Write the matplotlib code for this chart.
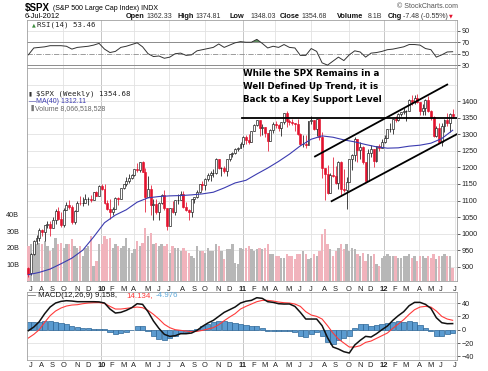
import numpy as np
import matplotlib.pyplot as plt
from matplotlib import transforms

W, H = 489, 371

plt.rcParams['font.family'] = ['Liberation Sans', 'DejaVu Sans']
plt.rcParams['font.size'] = 5.2

# weekly $SPX bars, week ending 10-Jul-2009 ... 6-Jul-2012 (157 weeks)
opens = [896, 880, 940, 979, 987, 1010, 1005, 1026, 1029, 1016, 1042, 1068, 1044, 1025, 1071, 1087, 1080, 1036, 1069, 1093,
         1091, 1091, 1106, 1106, 1102, 1126,
         1115, 1144, 1136, 1091, 1073, 1066, 1075, 1109, 1104, 1138, 1150, 1160, 1167, 1178, 1194, 1192, 1217, 1187, 1111, 1136,
         1087, 1089, 1064, 1092, 1117, 1076, 1022, 1078, 1065, 1102, 1102, 1121, 1079, 1071, 1065, 1104, 1110, 1125, 1149, 1146,
         1166, 1176, 1183, 1183, 1225, 1199, 1199, 1189, 1224, 1240, 1244, 1256,
         1258, 1272, 1293, 1283, 1276, 1311, 1329, 1343, 1320, 1321, 1304, 1279, 1314, 1332, 1328, 1320, 1337, 1364, 1340, 1338,
         1333, 1331, 1300, 1271, 1271, 1268, 1340, 1344, 1316, 1345, 1292, 1199, 1179, 1124, 1177, 1174, 1154, 1216, 1136, 1131,
         1155, 1224, 1238, 1285, 1253, 1263, 1216, 1159, 1244, 1255, 1219, 1265,
         1258, 1278, 1289, 1315, 1316, 1345, 1343, 1361, 1366, 1370, 1371, 1404, 1397, 1408, 1398, 1370, 1378, 1403, 1369, 1353,
         1295, 1318, 1278, 1325, 1343, 1335, 1362.33]
highs = [898, 942, 980, 996, 1018, 1014, 1027, 1039, 1039, 1049, 1074, 1080, 1065, 1076, 1096, 1101, 1085, 1072, 1097, 1113,
         1112, 1119, 1110, 1117, 1127, 1130,
         1146, 1150, 1150, 1103, 1104, 1080, 1112, 1112, 1139, 1151, 1170, 1181, 1181, 1194, 1214, 1217, 1220, 1197, 1173, 1148,
         1104, 1106, 1094, 1119, 1131, 1078, 1078, 1100, 1103, 1120, 1129, 1129, 1094, 1073, 1105, 1111, 1131, 1149, 1158, 1167,
         1184, 1189, 1196, 1227, 1226, 1200, 1204, 1225, 1240, 1246, 1259, 1263,
         1278, 1294, 1297, 1302, 1311, 1330, 1344, 1344, 1332, 1323, 1305, 1315, 1337, 1339, 1331, 1338, 1364, 1370, 1346, 1346,
         1335, 1346, 1304, 1298, 1299, 1341, 1356, 1344, 1347, 1345, 1307, 1199, 1208, 1182, 1230, 1204, 1220, 1220, 1195, 1171,
         1224, 1239, 1293, 1285, 1277, 1266, 1216, 1254, 1267, 1255, 1266, 1270,
         1285, 1297, 1315, 1333, 1345, 1354, 1363, 1368, 1378, 1374, 1405, 1419, 1419, 1422, 1398, 1391, 1406, 1415, 1373, 1354,
         1325, 1335, 1335, 1345, 1363, 1363, 1374.81]
lows = [869, 875, 934, 968, 979, 992, 978, 1016, 992, 1016, 1030, 1041, 1020, 1019, 1071, 1073, 1029, 1030, 1068, 1086,
        1083, 1091, 1087, 1095, 1102, 1115,
        1115, 1131, 1090, 1071, 1044, 1056, 1075, 1086, 1105, 1134, 1145, 1152, 1165, 1173, 1185, 1187, 1185, 1066, 1111, 1056,
        1040, 1060, 1042, 1088, 1071, 1011, 1022, 1063, 1056, 1088, 1101, 1076, 1069, 1040, 1050, 1092, 1107, 1122, 1132, 1131,
        1159, 1159, 1171, 1181, 1194, 1174, 1183, 1173, 1220, 1232, 1241, 1250,
        1257, 1262, 1271, 1271, 1276, 1310, 1325, 1294, 1299, 1292, 1249, 1279, 1305, 1319, 1310, 1294, 1331, 1323, 1329, 1328,
        1311, 1298, 1268, 1262, 1258, 1268, 1331, 1312, 1295, 1282, 1168, 1101, 1121, 1124, 1170, 1150, 1136, 1114, 1127, 1075,
        1155, 1191, 1220, 1215, 1226, 1209, 1158, 1159, 1231, 1202, 1216, 1248,
        1258, 1275, 1289, 1306, 1300, 1338, 1340, 1355, 1361, 1340, 1371, 1388, 1391, 1395, 1358, 1359, 1358, 1367, 1343, 1291,
        1292, 1278, 1266, 1307, 1324, 1306, 1348.03]
closes = [879, 940, 979, 987, 1010, 1005, 1026, 1029, 1016, 1042, 1068, 1044, 1025, 1071, 1087, 1080, 1036, 1069, 1093, 1091,
          1091, 1106, 1106, 1102, 1126, 1115,
          1144, 1136, 1091, 1073, 1066, 1075, 1109, 1104, 1138, 1150, 1160, 1167, 1178, 1194, 1192, 1217, 1187, 1111, 1136, 1087,
          1089, 1064, 1092, 1117, 1076, 1022, 1078, 1065, 1102, 1102, 1121, 1079, 1071, 1065, 1104, 1110, 1125, 1149, 1146, 1166,
          1176, 1183, 1183, 1225, 1199, 1199, 1189, 1224, 1240, 1244, 1256, 1258,
          1272, 1293, 1283, 1276, 1311, 1329, 1343, 1320, 1321, 1304, 1279, 1314, 1332, 1328, 1320, 1337, 1364, 1340, 1338, 1333,
          1331, 1300, 1271, 1271, 1268, 1340, 1344, 1316, 1345, 1292, 1199, 1179, 1124, 1177, 1174, 1154, 1216, 1136, 1131, 1155,
          1224, 1238, 1285, 1253, 1263, 1216, 1159, 1244, 1255, 1219, 1265, 1258,
          1278, 1289, 1315, 1316, 1345, 1343, 1361, 1366, 1370, 1371, 1404, 1397, 1408, 1398, 1370, 1378, 1403, 1369, 1353, 1295,
          1318, 1278, 1325, 1343, 1335, 1362, 1354.68]
volume_bn = [21, 22, 23, 22, 23, 22, 24, 21, 18, 20, 26, 22, 23, 20, 22, 22, 25, 21, 20, 21, 15, 20, 21, 27, 9, 12,
             22, 22, 27, 25, 26, 20, 22, 21, 20, 21, 26, 20, 17, 19, 24, 21, 23, 32, 27, 29, 22, 23, 21, 22,
             21, 22, 17, 21, 20, 20, 18, 20, 18, 17, 15, 14, 21, 18, 18, 17, 20, 18, 18, 22, 21, 18, 13, 19,
             19, 22, 11, 10,
             20, 19, 20, 21, 19, 18, 19, 20, 19, 20, 22, 16, 16, 15, 15, 14, 14, 16, 15, 15, 13, 16, 16, 18,
             16, 13, 14, 16, 15, 18, 28, 31, 22, 19, 15, 18, 20, 22, 19, 22, 18, 20, 19, 16, 15, 17, 12, 16,
             15, 16, 10, 9,
             14, 15, 16, 15, 15, 15, 14, 14, 15, 15, 16, 14, 15, 12, 15, 15, 14, 15, 14, 16, 13, 15, 15, 16,
             15, 15, 8.07]

# MA(40) read every 4th week
ma40 = [876, 883, 893, 909, 926, 950, 990, 1033, 1056, 1072,
        1095, 1108, 1112, 1114, 1115, 1117, 1120, 1125, 1138, 1153,
        1161, 1180, 1198, 1218, 1240, 1265, 1285, 1295, 1291, 1283,
        1277, 1269, 1262, 1258, 1259, 1264, 1267, 1273, 1287, 1312.11]

# RSI / MACD read every 2nd week
rsi14 = [48, 60, 61, 62, 64, 64, 64, 63, 58, 61,
         62, 63, 65, 68, 58, 52, 54, 61, 63, 66,
         69, 62, 50, 45, 46, 42, 44, 50, 51, 47,
         48, 55, 57, 59, 61, 67, 61, 65, 69, 71,
         70, 70, 75, 68, 60, 63, 61, 66, 61, 60,
         47, 47, 59, 54, 34, 30, 37, 44, 38, 48,
         55, 53, 44, 51, 52, 54, 57, 58, 60, 62,
         66, 66, 65, 59, 57, 44, 48, 53, 53.46]
macd = [-1.5, 4, 12, 24, 34, 40, 42.5, 43.5, 43, 42,
        42, 42, 42, 41.7, 40, 31, 25, 26, 29, 33,
        39, 38, 27, 13, 2, -7, -10, -9, -6, -6,
        -5, -1, 5, 10, 14, 20, 26, 30, 34, 40,
        42.7, 44, 48, 47, 42, 41, 39, 38.5, 38.6, 35,
        26, 16, 16, 16, 6, -12, -26, -29, -33, -35,
        -23, -16, -10, -11, -6, 0, 5.5, 14, 21, 27,
        36, 41, 41, 38, 32, 18, 10.5, 9, 9.158]
macd_sig = [-12.5, -7, 0, 11, 21, 28, 32.5, 35.5, 37, 37.5,
            39, 40, 40.5, 40.7, 39.5, 35, 31, 31, 32, 33,
            34, 33, 29, 23, 16, 8, 3, 0, -1, -2,
            -3, -2.5, -1, 1, 3, 7.5, 13.5, 19, 24, 31,
            35, 38.5, 42, 44, 44, 43, 41.5, 40.5, 40, 38.5,
            35, 27, 22, 20, 16, 6, -5, -14, -20, -26,
            -26, -24, -19, -17, -13, -9, -5, 2, 8.5, 15,
            23, 30, 34, 35, 34, 28, 20, 16, 14.134]
macd_hist = [11, 11, 12, 13, 13, 12, 10, 8, 6, 4.5,
             3, 2, 1.5, 1, 0.5, -4, -6, -5, -3, 0,
             5, 5, -2, -10, -14, -15, -13, -9, -5, -4,
             -2, 1.5, 6, 9, 11, 12.5, 12.5, 11, 10, 9,
             7.7, 5.5, 6, 3, -2, -2, -2.5, -2, -1.5, -3.5,
             -9, -11, -6, -4, -10, -18, -21, -15, -13, -9,
             3, 8, 9, 6, 7, 9, 10.5, 12, 12.5, 12,
             13, 11, 7, 3, -2, -10, -9.5, -7, -4.976]

month_names = ['J', 'A', 'S', 'O', 'N', 'D',
               '10', 'F', 'M', 'A', 'M', 'J', 'J', 'A', 'S', 'O', 'N', 'D',
               '11', 'F', 'M', 'A', 'M', 'J', 'J', 'A', 'S', 'O', 'N', 'D',
               '12', 'F', 'M', 'A', 'M', 'J', 'J']
month_weeks = [0, 4, 8, 12, 17, 21,
               26, 30, 34, 38, 43, 47, 51, 56, 60, 64, 69, 73,
               78, 82, 86, 90, 95, 99, 103, 108, 112, 117, 121, 125,
               130, 134, 138, 143, 147, 151, 156]

# hand drawn annotation (week index, price)
support_line = ([78.5, 157.6], [1350, 1350])
channel_upper = ([105.4, 154.0], [1233, 1450])
channel_lower = ([111.5, 157.5], [1098, 1300])
note = "While the SPX Remains in a\nWell Defined Up Trend, it is\nBack to a Key Support Level"

RED = '#e3122e'
GRID = '#e2e2e2'
YEARGRID = '#bdbdbd'
SPINE = '#a0a0a0'

weeks = np.arange(len(closes))
wk2 = np.arange(0, len(closes), 2)
wk4 = np.arange(0, len(closes), 4)


def rect(top, bottom):
    return [27 / W, 1 - bottom / H, 430 / W, (bottom - top) / H]


def px(x, y):
    return x / W, 1 - y / H


fig = plt.figure(figsize=(W / 100, H / 100), dpi=100)
ax_rsi = fig.add_axes(rect(20.5, 68))
ax_bg = fig.add_axes(rect(68, 281), sharex=ax_rsi)
ax_vol = fig.add_axes(rect(68, 281), sharex=ax_rsi)
ax_px = fig.add_axes(rect(68, 281), sharex=ax_rsi, sharey=ax_bg)
ax_macd = fig.add_axes(rect(291.5, 359.5), sharex=ax_rsi)
ax_bg.set_zorder(1)
ax_vol.set_zorder(2)
ax_px.set_zorder(3)
ax_vol.patch.set_visible(False)
ax_px.patch.set_visible(False)

ax_rsi.set_xlim(-0.5, 157.6)
ax_rsi.set_ylim(25, 108)
ax_bg.set_ylim(857, 1500)
ax_vol.set_ylim(0, 127.8)
ax_macd.set_ylim(-44.7, 57.3)

quarters = month_weeks[3::3]
for ax in (ax_rsi, ax_bg, ax_macd):
    for q, name in zip(quarters, month_names[3::3]):
        col = YEARGRID if len(name) == 2 else GRID
        ax.axvline(q + 0.8, color=col, lw=0.6, zorder=0)
    for s in ax.spines.values():
        s.set_color(SPINE)
        s.set_linewidth(0.6)
    ax.tick_params(axis='x', bottom=False, labelbottom=False)
    ax.yaxis.tick_right()
    ax.tick_params(axis='y', length=2, width=0.5, pad=1.5, colors='#222222', labelsize=5.2)
for ax in (ax_vol, ax_px):
    ax.tick_params(axis='x', bottom=False, labelbottom=False)
    for s in ax.spines.values():
        s.set_visible(False)
ax_px.tick_params(axis='y', left=False, labelleft=False, right=False, labelright=False)

# ---- RSI panel
ax_rsi.set_yticks([30, 50, 70, 90])
ax_rsi.axhline(90, color=GRID, lw=0.6, zorder=0)
ax_rsi.axhline(70, color='#8c8c8c', lw=0.7)
ax_rsi.axhline(30, color='#8c8c8c', lw=0.7)
ax_rsi.axhline(50, color='#8c8c8c', lw=0.6, ls='-.')
rsi_arr = np.array(rsi14, dtype=float)
ax_rsi.fill_between(wk2, rsi_arr, 70, where=rsi_arr > 70, interpolate=True, color='#5f8f5f', lw=0)
ax_rsi.fill_between(wk2, rsi_arr, 30, where=rsi_arr < 30, interpolate=True, color='#d98080', lw=0)
ax_rsi.plot(wk2, rsi_arr, color='#333333', lw=0.7)
ax_rsi.text(1.2, 101, '\u25b2', color='#3c8c3c', fontsize=3.5, va='center', family='DejaVu Sans')
ax_rsi.text(3.0, 101, 'RSI(14) 53.46', fontsize=5.3, va='center', family='DejaVu Sans Mono', color='#222222')

# ---- price panel background grid
for lvl in range(900, 1500, 50):
    ax_bg.axhline(lvl, color=GRID, lw=0.6, zorder=0)
ax_bg.set_yticks(range(900, 1450, 50))

# ---- volume
vol_colors = ['#b7b7b7' if c >= (closes[i - 1] if i else opens[0]) else '#f1b3bc'
              for i, c in enumerate(closes)]
ax_vol.bar(weeks, volume_bn, width=0.85, color=vol_colors, lw=0)
ax_vol.yaxis.tick_left()
ax_vol.set_yticks([10, 20, 30, 40])
ax_vol.set_yticklabels(['10B', '20B', '30B', '40B'])
ax_vol.tick_params(axis='y', left=False, pad=2, labelsize=5.2, colors='#222222')
ax_vol.tick_params(axis='y', right=False, labelright=False)

# ---- candles
o = np.array(opens, dtype=float)
c = np.array(closes, dtype=float)
prev = np.concatenate([[o[0]], c[:-1]])
edge = np.where(c >= prev, '#111111', RED)
face = np.where(c >= o, 'white', edge)
ax_px.vlines(weeks, lows, highs, colors=edge, lw=0.55, zorder=2)
ax_px.bar(weeks, np.abs(c - o), bottom=np.minimum(o, c), width=0.72,
          color=face, edgecolor=edge, lw=0.45, zorder=3)
ax_px.plot(wk4, ma40, color='#3b3bb0', lw=0.8, zorder=4)

ax_px.plot(*support_line, color='black', lw=1.3, zorder=5)
ax_px.plot(*channel_upper, color='black', lw=1.3, zorder=5)
ax_px.plot(*channel_lower, color='black', lw=1.3, zorder=5)

fig.text(*px(243, 86.5), note, fontsize=6.3, fontweight='bold', family='DejaVu Sans',
         va='center', ha='left', linespacing=1.55, zorder=10)

fig.text(*px(29, 93.5), '\u25ae', fontsize=4, va='center', color='#333333', family='DejaVu Sans')
fig.text(*px(36, 93.5), '$SPX (Weekly) 1354.68', fontsize=5.3, va='center',
         family='DejaVu Sans Mono', color='#222222')
fig.text(*px(29, 101.5), '\u2014MA(40) 1312.11', fontsize=5, va='center', color='#3b3bb0')
fig.text(*px(29, 108.3), '\u2590', fontsize=4.5, va='center', color='#777777', family='DejaVu Sans')
fig.text(*px(35, 108.3), 'Volume 8,066,518,528', fontsize=5, va='center', color='#666666')

# ---- MACD
for lvl in (-40, -20, 0, 20, 40):
    ax_macd.axhline(lvl, color=GRID, lw=0.6, zorder=0)
ax_macd.set_yticks([-40, -20, 0, 20, 40])
ax_macd.bar(wk2, macd_hist, width=1.9, color='#5b9bd0', edgecolor='#2c6596', lw=0.5, zorder=1)
ax_macd.plot(wk2, macd_sig, color='#ff3a3a', lw=0.8, zorder=2)
ax_macd.plot(wk2, macd, color='#111111', lw=1.1, zorder=3)

y_m = 295.5
fig.text(*px(28, y_m), '\u2014 MACD(12,26,9) 9.158,', fontsize=5.7, va='center', color='#111111')
fig.text(*px(126, y_m), '14.134,', fontsize=5.7, va='center', color='#ff3a3a')
fig.text(*px(156, y_m), '-4.976', fontsize=5.7, va='center', color='#5ba6d8')

# ---- month labels
for ax, off in ((ax_bg, -0.025), (ax_macd, -0.04)):
    trans = transforms.blended_transform_factory(ax.transData, ax.transAxes)
    for w, name in zip(month_weeks, month_names):
        ax.text(w + 0.8, off, name, transform=trans, ha='center', va='top', fontsize=5.4,
                fontweight='bold' if len(name) == 2 else 'normal', color='#222222')

# ---- header
fig.text(*px(25, 7.5), '$SPX', fontsize=7, fontweight='bold', va='center')
fig.text(*px(53, 8), '(S&P 500 Large Cap Index) INDX', fontsize=5, va='center')
fig.text(*px(25, 16), '6-Jul-2012', fontsize=5.3, va='center')
fig.text(*px(458, 6.5), '\u00a9 StockCharts.com', fontsize=5, va='center', ha='right', color='#555555')
header = [('Open', 126, True), ('1362.33', 146, False), ('High', 178, True), ('1374.81', 195, False),
          ('Low', 230, True), ('1348.03', 250, False), ('Close', 280, True), ('1354.68', 301, False),
          ('Volume', 337, True), ('8.1B', 368, False), ('Chg', 388, True), ('-7.48 (-0.55%)', 403, False)]
for txt, x, bold in header:
    fig.text(*px(x, 16), txt, fontsize=5.3 if bold else 5, va='center',
             fontweight='bold' if bold else 'normal', color='#111111' if bold else '#333333')
fig.text(*px(449, 16.3), '\u25bc', fontsize=3.5, va='center', color=RED, family='DejaVu Sans')

fig.savefig('out.png', dpi=100)
